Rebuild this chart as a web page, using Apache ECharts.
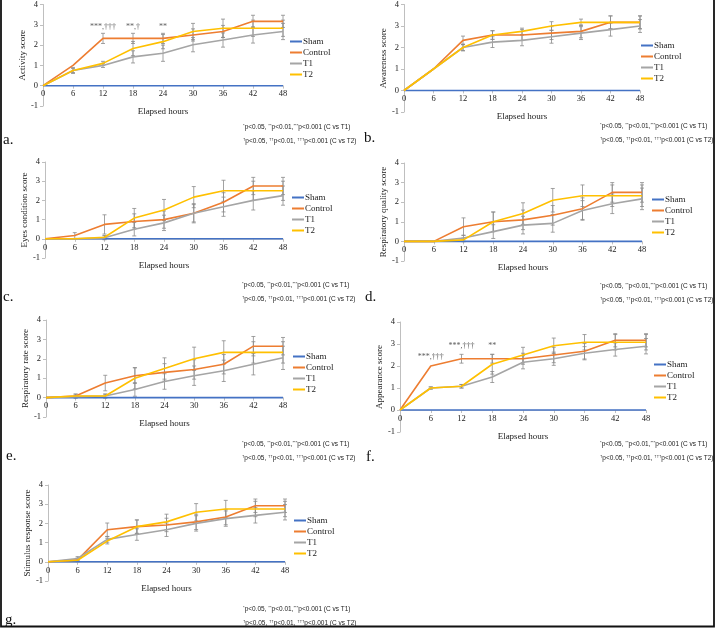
<!DOCTYPE html>
<html>
<head>
<meta charset="utf-8">
<script src="https://cdn.jsdelivr.net/npm/echarts@6/dist/echarts.min.js"></script>
<style>
  html, body { margin: 0; padding: 0; background: #fff; }
  #chart { width: 715px; height: 628px; }
</style>
</head>
<body>
<div id="chart"></div>
<script>
// time points (elapsed hours) shared by every panel
const hours = [0, 6, 12, 18, 24, 30, 36, 42, 48];
const groups = ['Sham', 'Control', 'T1', 'T2'];
const sham = [0, 0, 0, 0, 0, 0, 0, 0, 0];

// a. activity
const activityControl = [0, 1.0, 2.33, 2.33, 2.33, 2.5, 2.67, 3.17, 3.17];
const activityT1 = [0, 0.75, 1.0, 1.42, 1.6, 2.02, 2.25, 2.5, 2.67];
const activityT2 = [0, 0.75, 1.1, 1.83, 2.17, 2.67, 2.83, 2.83, 2.83];
const activityControlSd = [0, 0, 0.25, 0.25, 0.25, 0.3, 0.3, 0.3, 0.3];
const activityT1Sd = [0, 0.15, 0.1, 0.3, 0.4, 0.35, 0.35, 0.4, 0.4];
const activityT2Sd = [0, 0.1, 0.1, 0.35, 0.35, 0.4, 0.45, 0.4, 0.4];
const activityMarks = [[12, 2.9, '***,†††'], [18, 2.9, '**,†'], [24, 2.9, '**']];

// b. awareness
const awarenessControl = [0, 1.0, 2.33, 2.58, 2.58, 2.67, 2.75, 3.17, 3.17];
const awarenessT1 = [0, 1.0, 2.0, 2.25, 2.33, 2.5, 2.67, 2.83, 3.0];
const awarenessT2 = [0, 1.0, 2.0, 2.58, 2.75, 3.0, 3.17, 3.17, 3.17];
const awarenessControlSd = [0, 0, 0.2, 0.2, 0.25, 0.3, 0.3, 0.3, 0.3];
const awarenessT1Sd = [0, 0, 0.15, 0.25, 0.25, 0.3, 0.3, 0.3, 0.3];
const awarenessT2Sd = [0, 0, 0.15, 0.2, 0.15, 0.2, 0.15, 0.3, 0.3];

// c. eyes condition
const eyesControl = [0, 0.17, 0.75, 0.9, 1.0, 1.33, 1.9, 2.75, 2.75];
const eyesT1 = [0, 0, 0.05, 0.5, 0.83, 1.33, 1.67, 2.0, 2.25];
const eyesT2 = [0, 0, 0.08, 1.08, 1.5, 2.17, 2.5, 2.5, 2.5];
const eyesControlSd = [0, 0.15, 0.5, 0.4, 0.45, 0.5, 0.5, 0.45, 0.45];
const eyesT1Sd = [0, 0, 0.1, 0.35, 0.4, 0.45, 0.5, 0.5, 0.5];
const eyesT2Sd = [0, 0, 0.1, 0.5, 0.55, 0.55, 0.55, 0.5, 0.5];

// d. respiratory quality
const respQualityControl = [0, 0, 0.75, 1.0, 1.1, 1.33, 1.67, 2.5, 2.5];
const respQualityT1 = [0, 0, 0.17, 0.5, 0.83, 0.92, 1.58, 1.92, 2.17];
const respQualityT2 = [0, 0, 0.08, 1.0, 1.42, 2.1, 2.33, 2.33, 2.33];
const respQualityControlSd = [0, 0, 0.45, 0.5, 0.5, 0.5, 0.55, 0.5, 0.5];
const respQualityT1Sd = [0, 0, 0.15, 0.35, 0.45, 0.45, 0.5, 0.5, 0.55];
const respQualityT2Sd = [0, 0, 0.1, 0.5, 0.55, 0.6, 0.55, 0.55, 0.55];

// e. respiratory rate
const respRateControl = [0, 0.08, 0.75, 1.13, 1.3, 1.45, 1.72, 2.65, 2.65];
const respRateT1 = [0, 0.05, 0.08, 0.42, 0.83, 1.13, 1.38, 1.72, 2.05];
const respRateT2 = [0, 0.08, 0.08, 1.0, 1.5, 2.0, 2.33, 2.33, 2.33];
const respRateControlSd = [0, 0.1, 0.4, 0.4, 0.45, 0.5, 0.5, 0.5, 0.45];
const respRateT1Sd = [0, 0.05, 0.1, 0.35, 0.4, 0.5, 0.55, 0.55, 0.6];
const respRateT2Sd = [0, 0.1, 0.1, 0.55, 0.55, 0.6, 0.6, 0.55, 0.55];

// f. appearance
const appearanceControl = [0, 2.0, 2.33, 2.33, 2.33, 2.5, 2.67, 3.17, 3.17];
const appearanceT1 = [0, 1.0, 1.08, 1.5, 2.17, 2.33, 2.58, 2.75, 2.9];
const appearanceT2 = [0, 1.0, 1.08, 2.08, 2.5, 2.92, 3.08, 3.08, 3.08];
const appearanceControlSd = [0, 0, 0.2, 0.2, 0.25, 0.35, 0.35, 0.3, 0.3];
const appearanceT1Sd = [0, 0.05, 0.08, 0.25, 0.3, 0.3, 0.3, 0.3, 0.35];
const appearanceT2Sd = [0, 0.05, 0.08, 0.45, 0.35, 0.35, 0.35, 0.35, 0.35];
const appearanceMarks = [[6, 2.4, '***,†††'], [12, 2.9, '***,†††'], [18, 2.9, '**']];

// g. stimulus response
const stimulusControl = [0, 0.1, 1.67, 1.83, 1.92, 2.08, 2.33, 2.92, 2.92];
const stimulusT1 = [0, 0.17, 1.17, 1.42, 1.67, 2.0, 2.25, 2.42, 2.58];
const stimulusT2 = [0, 0.08, 1.08, 1.83, 2.08, 2.58, 2.75, 2.75, 2.75];
const stimulusControlSd = [0, 0.1, 0.35, 0.35, 0.35, 0.4, 0.4, 0.35, 0.35];
const stimulusT1Sd = [0, 0.1, 0.15, 0.3, 0.35, 0.4, 0.4, 0.4, 0.4];
const stimulusT2Sd = [0, 0.05, 0.15, 0.35, 0.4, 0.45, 0.45, 0.4, 0.4];

// footnotes; {s|...} marks the small superscript symbols
const footT1 = '{s|*}p<0.05, {s|**}p<0.01,{s|***}p<0.001 (C vs T1)';
const footT2 = '{s|\u2020}p<0.05, {s|\u2020\u2020}p<0.01, {s|\u2020\u2020\u2020}p<0.001 (C vs T2)';

const colors = { Sham: '#4472C4', Control: '#ED7D31', T1: '#A5A5A5', T2: '#FFC000' };
const serif = '"Liberation Serif", "DejaVu Serif", serif';
const sans = '"Liberation Sans", sans-serif';

// layout of each panel: grid box, legend, letter label and footnote spot
const panels = [
  { tag: 'a.', yName: 'Activity score', means: [activityControl, activityT1, activityT2],
    sds: [activityControlSd, activityT1Sd, activityT2Sd], marks: activityMarks,
    grid: [43, 4, 240, 102], legend: [290, 37], label: [3, 141], foot: [243, 128] },
  { tag: 'b.', yName: 'Awareness score', means: [awarenessControl, awarenessT1, awarenessT2],
    sds: [awarenessControlSd, awarenessT1Sd, awarenessT2Sd], marks: [],
    grid: [404, 4, 236, 108], legend: [641, 41], label: [364, 139], foot: [600, 127] },
  { tag: 'c.', yName: 'Eyes condition score', means: [eyesControl, eyesT1, eyesT2],
    sds: [eyesControlSd, eyesT1Sd, eyesT2Sd], marks: [],
    grid: [45, 162, 238, 96], legend: [292, 193], label: [3, 298], foot: [242, 286] },
  { tag: 'd.', yName: 'Respiratory quality score', means: [respQualityControl, respQualityT1, respQualityT2],
    sds: [respQualityControlSd, respQualityT1Sd, respQualityT2Sd], marks: [],
    grid: [404, 163, 238, 98], legend: [652, 195], label: [365, 298], foot: [600, 287] },
  { tag: 'e.', yName: 'Respiratory rate score', means: [respRateControl, respRateT1, respRateT2],
    sds: [respRateControlSd, respRateT1Sd, respRateT2Sd], marks: [],
    grid: [46, 320, 237, 97], legend: [293, 352], label: [6, 457], foot: [242, 445] },
  { tag: 'f.', yName: 'Appearance score', means: [appearanceControl, appearanceT1, appearanceT2],
    sds: [appearanceControlSd, appearanceT1Sd, appearanceT2Sd], marks: appearanceMarks,
    grid: [400, 322, 246, 110], legend: [654, 360], label: [366, 458], foot: [600, 445] },
  { tag: 'g.', yName: 'Stimulus response score', means: [stimulusControl, stimulusT1, stimulusT2],
    sds: [stimulusControlSd, stimulusT1Sd, stimulusT2Sd], marks: [],
    grid: [48, 485, 237, 96], legend: [294, 516], label: [5, 621], foot: [243, 610] }
];

function pairs(vals) {
  return hours.map((h, i) => [h, vals[i]]);
}

function renderErrorBar(params, api) {
  const x = api.value(0), y = api.value(1), e = api.value(2);
  if (!e) return;
  const hi = api.coord([x, y + e]);
  const lo = api.coord([x, y - e]);
  const st = { stroke: '#8a8a8a', lineWidth: 0.8 };
  return {
    type: 'group',
    children: [
      { type: 'line', shape: { x1: hi[0], y1: hi[1], x2: lo[0], y2: lo[1] }, style: st },
      { type: 'line', shape: { x1: hi[0] - 2, y1: hi[1], x2: hi[0] + 2, y2: hi[1] }, style: st },
      { type: 'line', shape: { x1: lo[0] - 2, y1: lo[1], x2: lo[0] + 2, y2: lo[1] }, style: st }
    ]
  };
}

function footText(text, left, top) {
  return {
    type: 'text', left: left, top: top,
    style: {
      text: text, fontFamily: sans, fontSize: 6.5, fill: '#222',
      rich: { s: { fontFamily: sans, fontSize: 4.2, fill: '#222', verticalAlign: 'top' } }
    }
  };
}

const grid = [], xAxis = [], yAxis = [], legend = [], series = [], graphic = [];

panels.forEach((p, k) => {
  grid.push({ left: p.grid[0], top: p.grid[1], width: p.grid[2], height: p.grid[3] });

  // the horizontal axis sits on y = 0, one unit (1/5 of the height) above the bottom
  xAxis.push({
    gridIndex: k, type: 'value', min: 0, max: 48, interval: 6,
    position: 'bottom', offset: -p.grid[3] / 5,
    name: 'Elapsed hours', nameLocation: 'middle', nameGap: 22,
    nameTextStyle: { fontFamily: serif, fontSize: 9, color: '#222' },
    axisLine: { onZero: false, lineStyle: { color: '#d0d0d0', width: 1 } },
    axisTick: { show: true, length: 3, lineStyle: { color: '#bfbfbf' } },
    axisLabel: { fontFamily: serif, fontSize: 8.5, color: '#222', margin: 4 },
    splitLine: { show: false }
  });

  yAxis.push({
    gridIndex: k, type: 'value', min: -1, max: 4, interval: 1,
    name: p.yName, nameLocation: 'middle', nameGap: 14,
    nameTextStyle: { fontFamily: serif, fontSize: 9, color: '#222' },
    axisLine: { show: true, lineStyle: { color: '#bfbfbf', width: 1 } },
    axisTick: { show: true, length: 3, lineStyle: { color: '#bfbfbf' } },
    axisLabel: { fontFamily: serif, fontSize: 8.5, color: '#222', margin: 5 },
    splitLine: { show: false }
  });

  legend.push({
    left: p.legend[0], top: p.legend[1], orient: 'vertical', padding: 0,
    icon: 'rect', itemWidth: 12, itemHeight: 2, itemGap: 2,
    selectedMode: false, data: groups,
    textStyle: { fontFamily: serif, fontSize: 9, lineHeight: 9, color: '#222', padding: [0, 0, 0, -4] }
  });

  // error bars under the lines
  p.means.forEach((m, j) => {
    series.push({
      type: 'custom', xAxisIndex: k, yAxisIndex: k, z: 1, silent: true,
      renderItem: renderErrorBar, encode: { x: 0, y: 1 },
      data: hours.map((h, i) => [h, m[i], p.sds[j][i]])
    });
  });

  const lineData = [sham].concat(p.means);
  groups.forEach((g, j) => {
    series.push({
      name: g, type: 'line', xAxisIndex: k, yAxisIndex: k, z: 2 + j,
      showSymbol: false, symbol: 'none',
      lineStyle: { color: colors[g], width: 1.6 },
      itemStyle: { color: colors[g] },
      data: pairs(lineData[j])
    });
  });

  if (p.marks.length) {
    series.push({
      type: 'scatter', xAxisIndex: k, yAxisIndex: k, symbolSize: 1, z: 10, silent: true,
      itemStyle: { color: 'rgba(0,0,0,0)' },
      label: {
        show: true, position: 'inside', formatter: (d) => d.value[2],
        fontFamily: serif, fontSize: 8, color: '#333'
      },
      data: p.marks
    });
  }

  graphic.push({
    type: 'text', left: p.label[0], top: p.label[1] - 8,
    style: { text: p.tag, font: '15px ' + serif, fill: '#111' }
  });
  graphic.push(footText(footT1, p.foot[0], p.foot[1] - 4));
  graphic.push(footText(footT2, p.foot[0], p.foot[1] + 10));
});

// outer frame (left, right and bottom edges)
graphic.push({
  type: 'polyline', z: 100,
  shape: { points: [[1, 0], [1, 626.5], [714, 626.5], [714, 0]] },
  style: { stroke: '#111', lineWidth: 1.8, fill: null }
});

const chart = echarts.init(document.getElementById('chart'));
chart.setOption({
  animation: false,
  backgroundColor: '#fff',
  grid: grid,
  xAxis: xAxis,
  yAxis: yAxis,
  legend: legend,
  series: series,
  graphic: graphic
});
</script>
</body>
</html>
